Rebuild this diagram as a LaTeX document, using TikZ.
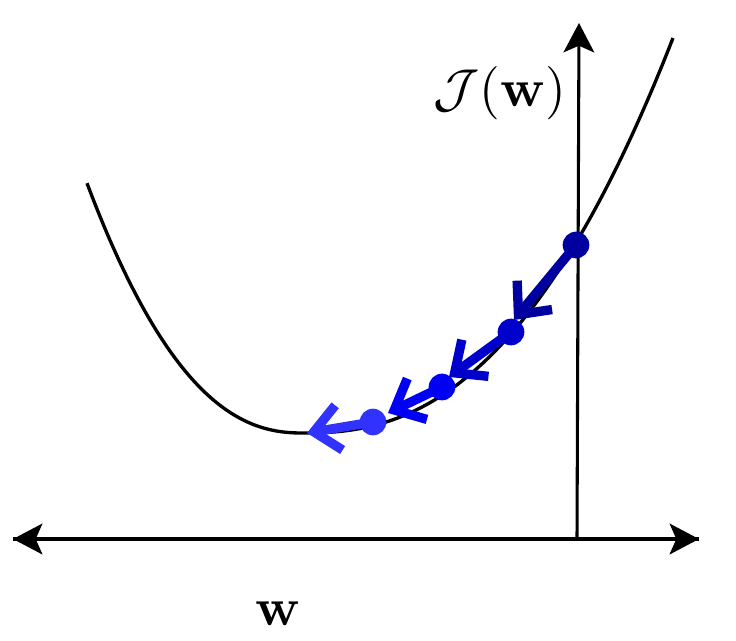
\documentclass[tikz,border=0pt]{standalone}
\usetikzlibrary{arrows.meta}
\definecolor{c1}{RGB}{0,0,160}
\definecolor{c2}{RGB}{0,0,205}
\definecolor{c3}{RGB}{0,0,245}
\definecolor{c4}{RGB}{50,50,255}
\begin{document}
\begin{tikzpicture}[x=0.75pt,y=-0.75pt,
  axis/.style={line width=2.6pt,-{Stealth[length=22pt,width=23pt,inset=5pt]}},
  dot/.style={circle,inner sep=0pt,minimum size=20pt},
  stepar/.style={line width=7pt,-{Straight Barb[length=19pt,width=34pt]}}]
\useasboundingbox (0,0) rectangle (736,640);
% curve
\draw[line width=2.5pt] plot[domain=2.16:0.01,samples=60] ({303-100*\x},{433-42.5*exp(2.3*ln(\x))})
  -- plot[domain=0.01:3.70,samples=80] ({303+100*\x},{433-17.1*exp(2.4*ln(\x))});
% axes
\coordinate (xl) at (13,539);
\coordinate (xr) at (699,539);
\coordinate (yb) at (577,539);
\coordinate (yt) at (579,23);
\draw[axis] (xl) -- (xr);
\draw[axis,line width=2.3pt] (yb) -- (yt);
\draw[axis] (xr) -- (xl);
% labels
\node[scale=4] (jlab) at (500,93) {$\mathcal{J}(\mathbf{w})$};
\node[scale=4] (wlab) at (278,614) {$\mathbf{w}$};
% points
\coordinate (p1) at (576,245);
\coordinate (p2) at (511,332);
\coordinate (p3) at (442,387);
\coordinate (p4) at (373,422);
\coordinate (t1) at (514,320);
\coordinate (t2) at (449,377);
\coordinate (t3) at (388,413);
\coordinate (t4) at (307,433);
\draw[stepar,c1] (p1) -- (t1);
\draw[stepar,c2] (p2) -- (t2);
\draw[stepar,c3] (p3) -- (t3);
\draw[stepar,c4] (p4) -- (t4);
\node[dot,fill=c1] (d1) at (p1) {};
\node[dot,fill=c2] (d2) at (p2) {};
\node[dot,fill=c3] (d3) at (p3) {};
\node[dot,fill=c4] (d4) at (p4) {};
\end{tikzpicture}
\end{document}
